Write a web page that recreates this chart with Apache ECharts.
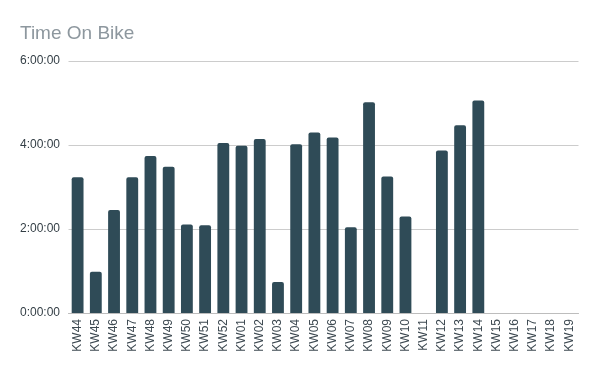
<!DOCTYPE html>
<html><head><meta charset="utf-8">
<script src="https://cdn.jsdelivr.net/npm/echarts@6/dist/echarts.min.js"></script>
<style>html,body{margin:0;padding:0;background:#fff}#c{width:600px;height:371px}</style>
</head><body><div id="c"></div>
<script>
const categories = ["KW44","KW45","KW46","KW47","KW48","KW49","KW50","KW51","KW52","KW01","KW02","KW03","KW04","KW05","KW06","KW07","KW08","KW09","KW10","KW11","KW12","KW13","KW14","KW15","KW16","KW17","KW18","KW19"];
// hours on bike
const hours = [3.23,0.98,2.45,3.23,3.74,3.48,2.11,2.09,4.05,3.98,4.14,0.74,4.02,4.30,4.18,2.04,5.02,3.25,2.30,0,3.87,4.47,5.06,null,null,null,null,null];
const yTicks = [0,2,4,6];

function fmt(h){
  const tot = Math.round(h*3600);
  const hh = Math.floor(tot/3600), mm = Math.floor((tot%3600)/60), ss = tot%60;
  return hh + ':' + String(mm).padStart(2,'0') + ':' + String(ss).padStart(2,'0');
}

const chart = echarts.init(document.getElementById('c'), null, {renderer:'canvas'});
chart.setOption({
  animation:false,
  title:{text:'Time On Bike', left:15, top:19, textStyle:{fontFamily:'Liberation Sans, Arial', fontSize:19, fontWeight:'normal', color:'#8d979e'}},
  grid:{left:68.5, right:21.5, top:61, bottom:58, containLabel:false},
  xAxis:{type:'category', data:categories,
    axisLine:{lineStyle:{color:'#bdbdbd'}}, axisTick:{show:false},
    axisLabel:{rotate:90, interval:0, margin:6, fontFamily:'Liberation Sans, Arial', fontSize:12, color:'#3e4a52'}},
  yAxis:{type:'value', min:yTicks[0], max:yTicks[yTicks.length-1], interval:2,
    axisLine:{show:false}, axisTick:{show:false},
    splitLine:{lineStyle:{color:'#cccccc'}},
    axisLabel:{formatter:fmt, margin:8.5, fontFamily:'Liberation Sans, Arial', fontSize:12, color:'#333e45'}},
  series:[{type:'bar', data:hours, barCategoryGap:'35%',
    itemStyle:{color:'#2f4b57', borderRadius:[2,2,0,0]}}]
});
</script></body></html>
